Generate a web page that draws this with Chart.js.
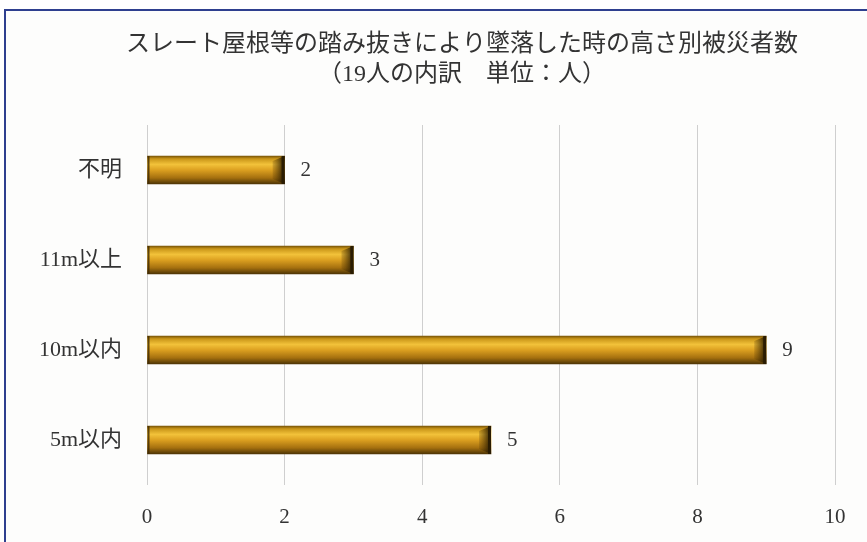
<!DOCTYPE html>
<html>
<head>
<meta charset="utf-8">
<script src="https://cdn.jsdelivr.net/npm/chart.js@4/dist/chart.umd.min.js"></script>
<style>
  html, body { margin: 0; padding: 0; background: #fff; }
  #frame {
    position: absolute; left: 4px; top: 9px; width: 863px; height: 533px;
    border-left: 2px solid #2e3f8f; border-top: 2px solid #2e3f8f;
    background: #fdfdfc;
  }
  #wrap { position: absolute; left: 0; top: 0; width: 861px; height: 531px; }
</style>
</head>
<body>
<div id="frame"><div id="wrap"><canvas id="grafico"></canvas></div></div>
<script>
const categorias = ['不明', '11m以上', '10m以内', '5m以内'];
const personas = [2, 3, 9, 5];
const ticksX = [0, 2, 4, 6, 8, 10];
const titulo = ['スレート屋根等の踏み抜きにより墜落した時の高さ別被災者数', '（19人の内訳　単位：人）'];

const fuente = "'Liberation Serif', 'DejaVu Serif', 'Noto Sans CJK JP', serif";
const grosor = 28;

// degradado dorado para cada barra, según su posición en el eje y
const colorBarra = (ctx) => {
    const chart = ctx.chart;
    const y = chart.scales.y;
    if (!y || !chart.chartArea) return '#d9a11a';
    const centro = y.getPixelForValue(ctx.dataIndex);
    const g = chart.ctx.createLinearGradient(0, centro - grosor / 2, 0, centro + grosor / 2);
    g.addColorStop(0, '#7a5608');
    g.addColorStop(0.1, '#c99518');
    g.addColorStop(0.3, '#f2c23a');
    g.addColorStop(0.5, '#dca020');
    g.addColorStop(0.78, '#a5700f');
    g.addColorStop(1, '#4e3505');
    return g;
};

// título en dos líneas, algo desplazado a la izquierda del centro del gráfico
const tituloPlugin = {
    id: 'tituloPlugin',
    afterDraw(chart) {
        const ctx = chart.ctx;
        ctx.save();
        ctx.fillStyle = '#333';
        ctx.font = '24px ' + fuente;
        ctx.textAlign = 'center';
        ctx.textBaseline = 'middle';
        titulo.forEach((linea, i) => ctx.fillText(linea, 456, 34 + i * 30));
        ctx.restore();
    }
};

// extremos biselados y etiquetas con el valor
const biselYValores = {
    id: 'biselYValores',
    afterDatasetsDraw(chart) {
        const ctx = chart.ctx;
        const meta = chart.getDatasetMeta(0);
        ctx.save();
        meta.data.forEach((bar, i) => {
            const top = bar.y - bar.height / 2;
            const bot = bar.y + bar.height / 2;
            const fin = bar.x;
            const ini = bar.base;
            // bisel derecho
            const gb = ctx.createLinearGradient(fin - 12, 0, fin, 0);
            gb.addColorStop(0, 'rgba(90,60,5,0.2)');
            gb.addColorStop(1, 'rgba(30,20,0,0.95)');
            ctx.fillStyle = gb;
            ctx.beginPath();
            ctx.moveTo(fin - 12, top + 5);
            ctx.lineTo(fin, top);
            ctx.lineTo(fin, bot);
            ctx.lineTo(fin - 12, bot - 5);
            ctx.closePath();
            ctx.fill();
            ctx.fillStyle = '#2a1c02';
            ctx.fillRect(fin - 3, top, 3, bar.height);
            // borde izquierdo
            ctx.fillStyle = 'rgba(60,40,4,0.8)';
            ctx.fillRect(ini, top, 2, bar.height);

            ctx.fillStyle = '#333';
            ctx.font = '21px ' + fuente;
            ctx.textAlign = 'left';
            ctx.textBaseline = 'middle';
            ctx.fillText(personas[i], fin + 16, bar.y);
        });
        ctx.restore();
    }
};

new Chart(document.getElementById('grafico'), {
    type: 'bar',
    data: {
        labels: categorias,
        datasets: [{
            data: personas,
            backgroundColor: colorBarra,
            barThickness: grosor,
            borderWidth: 0
        }]
    },
    options: {
        indexAxis: 'y',
        responsive: true,
        maintainAspectRatio: false,
        animation: false,
        layout: { padding: { left: 6, right: 32, top: 114, bottom: 13 } },
        plugins: {
            legend: { display: false },
            tooltip: { enabled: false },
            title: { display: false }
        },
        scales: {
            x: {
                min: 0,
                max: 10,
                afterBuildTicks: (scale) => { scale.ticks = ticksX.map(v => ({ value: v })); },
                afterFit: (scale) => { scale.height = 44; },
                grid: { color: '#cfcfcf', lineWidth: 1, drawTicks: false },
                border: { display: false },
                ticks: { color: '#333', padding: 20, font: { family: fuente, size: 21 } }
            },
            y: {
                afterFit: (scale) => { scale.width = 135; },
                grid: { display: false },
                border: { display: false },
                ticks: { color: '#333', padding: 17, font: { family: fuente, size: 22 } }
            }
        }
    },
    plugins: [biselYValores, tituloPlugin]
});
</script>
</body>
</html>
